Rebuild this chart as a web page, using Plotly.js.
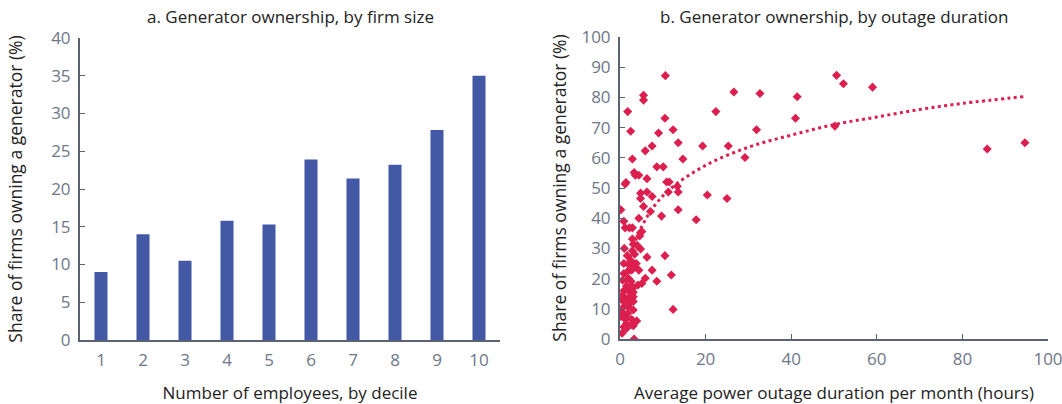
<!DOCTYPE html>
<html>
<head>
<meta charset="utf-8">
<script src="https://cdn.plot.ly/plotly-3.0.1.min.js"></script>
<style>html,body{margin:0;padding:0;background:#fff;}#chart{width:1062px;height:404px;}</style>
</head>
<body>
<div id="chart"></div>
<script>
// Panel a: generator ownership by firm size decile
const deciles = [1, 2, 3, 4, 5, 6, 7, 8, 9, 10];
const shareByDecile = [9.0, 14.0, 10.5, 15.8, 15.3, 23.9, 21.4, 23.2, 27.8, 35.0];

// Panel b: generator ownership by outage duration (hours per month)
const outageHours = [
  10.6, 5.5, 5.5, 26.6, 32.7, 41.4, 1.8, 22.4, 10.5, 41.0, 2.5, 12.4, 9.0, 31.9,
  7.5, 5.9, 13.6, 19.3, 25.3, 2.9, 14.7, 29.2, 8.6, 10.1, 3.3, 3.6, 4.4, 1.4, 1.2,
  6.3, 10.9, 11.5, 13.4, 13.6, 11.3, 4.8, 6.3, 4.8, 7.5, 20.4, 25.0, 5.5, 0.2, 13.6,
  7.1, 17.8, 4.4, 9.7, 0.9, 1.2, 2.2, 2.9, 4.8, 5.1, 4.6, 2.9, 4.8, 3.1, 10.5, 2.9,
  3.4, 1.7, 6.3, 0.9, 2.0, 3.1, 3.4, 2.1, 2.7, 4.4, 7.5, 0.9, 12.0, 5.9, 0.6, 8.6,
  5.1, 4.2, 1.5, 2.3, 3.1, 0.9, 1.9, 3.1, 2.3, 3.1, 0.5, 3.1, 2.3, 0.9, 1.9, 3.1,
  0.2, 0.9, 1.5, 2.7, 3.9, 1.5, 3.1, 0.9, 1.5, 2.7, 12.4, 0.5, 3.3,
  0.4, 1.2, 2.0, 2.5, 4.0, 3.8, 1.0, 0.6, 2.6, 1.8,
  50.6, 52.2, 59.0, 50.2, 85.8, 94.6
];
const shareOwning = [
  87.2, 80.7, 79.1, 81.8, 81.3, 80.2, 75.3, 75.3, 73.1, 73.1, 68.8, 69.3, 68.2, 69.3,
  63.9, 62.3, 65.0, 63.9, 63.9, 59.6, 59.6, 60.1, 57.0, 57.0, 55.1, 54.2, 54.2, 51.8, 51.3,
  53.1, 52.0, 52.0, 50.6, 48.7, 48.7, 48.3, 48.7, 46.5, 47.2, 47.7, 46.5, 43.9, 42.8, 42.8,
  42.2, 39.5, 40.0, 40.7, 39.0, 36.8, 36.8, 36.8, 35.2, 35.6, 34.1, 33.1, 29.8, 31.4, 27.6, 29.2,
  28.1, 27.6, 27.1, 25.0, 24.7, 24.5, 23.9, 22.8, 22.8, 22.8, 22.8, 21.7, 21.2, 20.1, 19.5, 19.1,
  18.4, 17.9, 17.5, 17.0, 17.0, 16.0, 16.0, 15.5, 14.0, 14.0, 12.9, 12.4, 11.8, 10.7, 10.7, 9.6,
  7.5, 7.0, 7.0, 6.5, 6.0, 5.0, 4.4, 4.0, 3.5, 4.7, 9.8, 1.9, 0.0,
  9.0, 13.0, 20.0, 26.0, 31.0, 25.0, 30.0, 14.5, 19.0, 8.5,
  87.3, 84.5, 83.4, 70.5, 62.9, 65.0
];

// Dotted trend line
const trendX = [1, 2, 3, 5, 8, 12, 20, 30, 40, 50, 60, 70, 80, 94.6];
const trendY = [14, 24, 30, 37, 44, 50, 57.5, 63.5, 67.5, 71, 73.5, 76, 78, 80.3];

const barColor = '#4459A6';
const dotColor = '#DC1F4E';
const axisColor = '#5B6272';
const tickColor = '#6E7788';
const font = 'Open Sans, Lato, sans-serif';

const data = [
  {type: 'bar', x: deciles, y: shareByDecile, xaxis: 'x', yaxis: 'y',
   marker: {color: barColor}, width: 0.31, showlegend: false, hoverinfo: 'x+y'},
  {type: 'scatter', mode: 'markers', x: outageHours, y: shareOwning, xaxis: 'x2', yaxis: 'y2',
   marker: {symbol: 'diamond', size: 7, color: dotColor}, showlegend: false},
  {type: 'scatter', mode: 'lines', x: trendX, y: trendY, xaxis: 'x2', yaxis: 'y2',
   line: {color: dotColor, width: 3, dash: '3px,3.4px', shape: 'spline'}, showlegend: false}
];

const axCommon = {
  showgrid: false, zeroline: false, showline: true, linecolor: axisColor, linewidth: 2,
  ticks: 'inside', ticklen: 5, tickwidth: 1, tickcolor: axisColor,
  tickfont: {family: font, size: 17, color: tickColor}, ticklabeloverflow: 'allow'
};
const titleFont = {family: font, size: 17, color: '#222'};
const yTitleFont = {family: font, size: 17.5, color: '#222'};

const layout = {
  width: 1062, height: 404,
  margin: {l: 0, r: 0, t: 0, b: 0},
  paper_bgcolor: '#fff', plot_bgcolor: '#fff',
  font: {family: font},
  xaxis: Object.assign({}, axCommon, {domain: [80/1062, 500/1062], range: [0.5, 10.5],
    tickmode: 'array', tickvals: deciles, ticks: '', ticklabelstandoff: 4, anchor: 'y',
    title: {text: 'Number of employees, by decile', font: titleFont, standoff: 20}}),
  yaxis: Object.assign({}, axCommon, {domain: [64/404, 366/404], range: [0, 40], dtick: 5,
    ticklabelstandoff: 4, anchor: 'x',
    title: {text: 'Share of firms owning a generator (%)', font: yTitleFont, standoff: 24}}),
  xaxis2: Object.assign({}, axCommon, {domain: [620/1062, 1048/1062], range: [0, 100],
    tickmode: 'array', tickvals: [0, 20, 40, 60, 80, 100],
    ticklabelstandoff: 4, anchor: 'y2',
    title: {text: 'Average power outage duration per month (hours)', font: titleFont, standoff: 20}}),
  yaxis2: Object.assign({}, axCommon, {domain: [65/404, 367/404], range: [0, 100], dtick: 10,
    ticklabelstandoff: 4, anchor: 'x2',
    title: {text: 'Share of firms owning a generator (%)', font: yTitleFont, standoff: 10}}),
  annotations: [
    {text: 'a. Generator ownership, by firm size', xref: 'paper', yref: 'paper',
     x: 290/1062, y: 1 - 16/404, xanchor: 'center', yanchor: 'middle', showarrow: false,
     font: {family: font, size: 17, color: '#222'}},
    {text: 'b. Generator ownership, by outage duration', xref: 'paper', yref: 'paper',
     x: 834/1062, y: 1 - 16/404, xanchor: 'center', yanchor: 'middle', showarrow: false,
     font: {family: font, size: 17, color: '#222'}}
  ]
};

Plotly.newPlot('chart', data, layout, {displayModeBar: false, staticPlot: true});
</script>
</body>
</html>
